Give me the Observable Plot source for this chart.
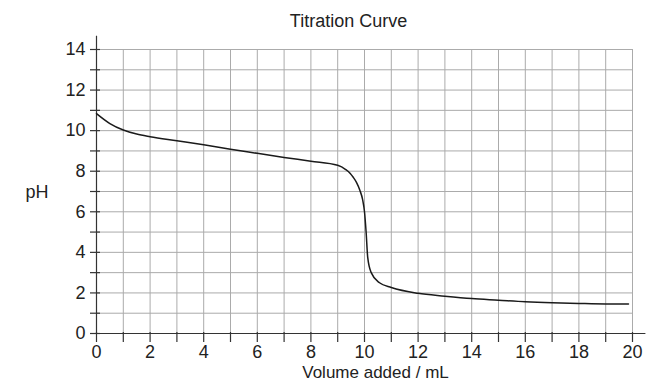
<!DOCTYPE html>
<html>
<head>
<meta charset="utf-8">
<script src="https://cdn.jsdelivr.net/npm/d3@7"></script>
<script src="https://cdn.jsdelivr.net/npm/@observablehq/plot@0.6"></script>
<style>
  html, body { margin: 0; padding: 0; background: #fff; }
</style>
</head>
<body>
<div id="chart"></div>
<script>
const title = "Titration Curve";
const xLabel = "Volume added / mL";
const yLabel = "pH";

const volume = [0, 0.5, 1, 1.5, 2, 3, 4, 5, 6, 7, 8, 9, 9.3, 9.46, 9.58, 9.7, 9.83, 9.93, 10.0, 10.06, 10.12, 10.25, 10.56, 11, 12, 13, 14, 15, 16, 17, 18, 19, 19.85];
const pH = [10.84, 10.35, 10.03, 9.83, 9.7, 9.5, 9.3, 9.08, 8.88, 8.68, 8.49, 8.29, 8.08, 7.9, 7.7, 7.45, 7.05, 6.6, 6.0, 5.0, 3.75, 3.0, 2.5, 2.27, 1.98, 1.84, 1.72, 1.64, 1.56, 1.51, 1.48, 1.46, 1.46];

const xTicks = d3.range(0, 21, 1);
const yTicks = d3.range(0, 15, 1);
const xTickLabels = d3.range(0, 21, 2);
const yTickLabels = d3.range(0, 15, 2);

const curveData = volume.map((v, i) => ({volume: v, pH: pH[i]}));

const font = "Liberation Sans, Arial, Helvetica, sans-serif";
const textColor = "#222";

const chart = Plot.plot({
  width: 647,
  height: 381,
  marginLeft: 96,
  marginRight: 15,
  marginTop: 49,
  marginBottom: 48,
  style: {fontFamily: font, background: "#fff", overflow: "visible"},
  x: {domain: [0, 20], axis: null},
  y: {domain: [0, 14], axis: null},
  marks: [
    Plot.ruleX(xTicks.filter(d => d > 0), {x: d => d, y1: 0, y2: 14, stroke: "#ababab", strokeWidth: 1}),
    Plot.ruleY(yTicks.filter(d => d > 0), {y: d => d, x1: 0, x2: 20, stroke: "#ababab", strokeWidth: 1}),
    Plot.ruleX([0], {x: d => d, y1: 0, y2: 14.65, stroke: "#333", strokeWidth: 1.2}),
    Plot.ruleY([0], {y: d => d, x1: 0, x2: 20.5, stroke: "#333", strokeWidth: 1.2}),
    Plot.ruleY(yTicks, {y: d => d, x1: 0, x2: 0, insetLeft: -6, insetRight: -4, stroke: "#333", strokeWidth: 1.2}),
    Plot.ruleX(xTicks, {x: d => d, y1: 0, y2: 0, insetTop: -1, insetBottom: -9, stroke: "#333", strokeWidth: 1.2}),
    Plot.text(yTickLabels, {x: 0, y: d => d, text: d => String(d), dx: -11, textAnchor: "end", lineAnchor: "middle", fontSize: 18, fill: textColor}),
    Plot.text(xTickLabels, {x: d => d, y: 0, text: d => String(d), dy: 18.5, textAnchor: "middle", lineAnchor: "middle", fontSize: 18, fill: textColor}),
    Plot.line(curveData, {x: "volume", y: "pH", curve: "monotone-x", stroke: "#1a1a1a", strokeWidth: 1.5}),
    Plot.text([title], {frameAnchor: "top", text: d => d, dx: -16, dy: -23, lineAnchor: "bottom", fontSize: 18, fill: textColor}),
    Plot.text([xLabel], {frameAnchor: "bottom", text: d => d, dx: 11, dy: 44, lineAnchor: "bottom", fontSize: 17, fill: textColor}),
    Plot.text([yLabel], {frameAnchor: "left", text: d => d, dx: -59.5, dy: 1, textAnchor: "middle", lineAnchor: "middle", fontSize: 18, fill: textColor})
  ]
});
document.getElementById("chart").appendChild(chart);
</script>
</body>
</html>
